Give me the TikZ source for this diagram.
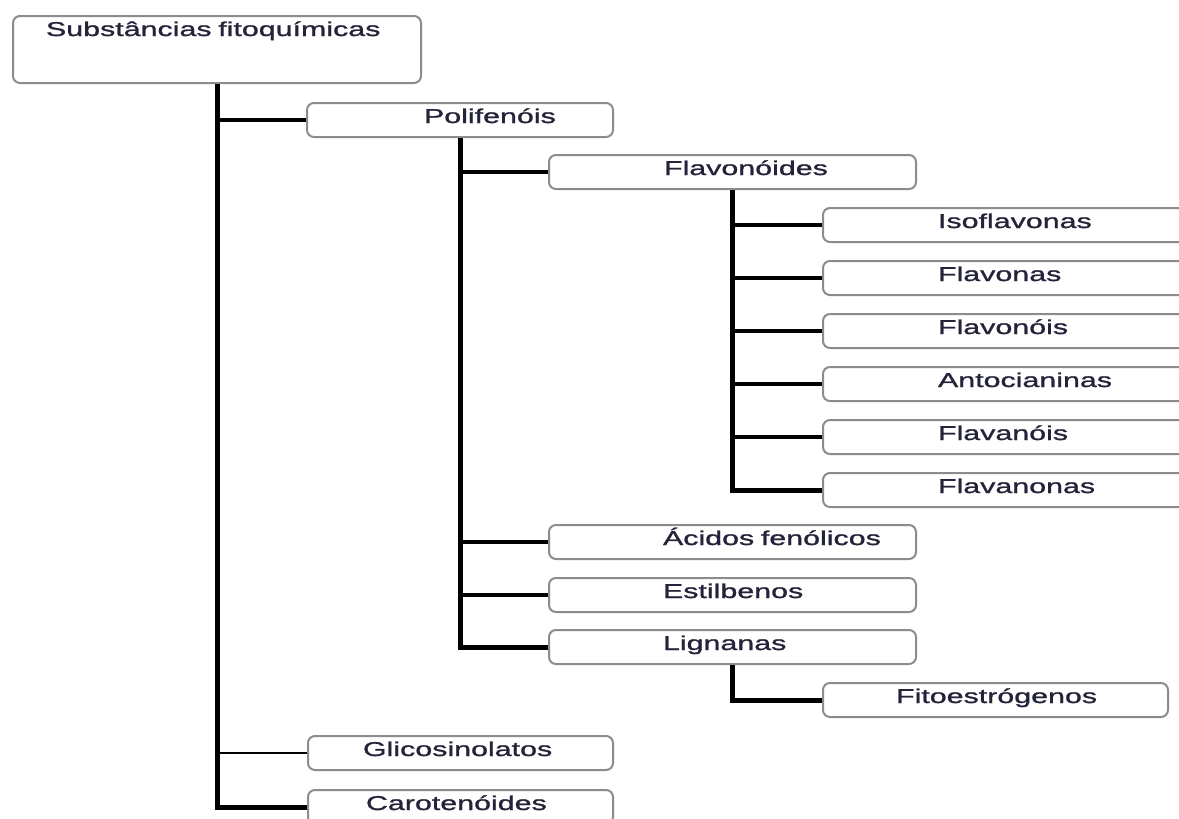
\documentclass[tikz,border=0pt]{standalone}
\usepackage{fontspec}
\newfontfamily\boxfont[FakeStretch=1.52,FakeBold=1.2]{Liberation Sans}
\definecolor{boxline}{HTML}{8C8C8C}
\definecolor{boxtext}{HTML}{23233A}
\begin{document}
\begin{tikzpicture}[x=1pt,y=-1pt,
  box/.style 2 args={draw=boxline,line width=2pt,rounded corners=7pt,fill=white,anchor=north west,
    inner xsep=0pt,inner ysep=0pt,text width=#1,align=left,text height=20pt,text depth=14pt,
    font=\boxfont\fontsize{20}{24}\selectfont,text=boxtext,execute at begin node={\hspace*{#2}}},
  trunk/.style={line width=5pt},
  branch/.style={line width=4pt}]
\clip (0,0) rectangle (1179,819);
\fill[white] (0,0) rectangle (1179,819);
\node[box={408pt}{33pt},text depth=47pt] (root) at (12,15) {Substâncias fitoquímicas};
\node[box={306pt}{117pt}] (poli) at (306,102) {Polifenóis};
\node[box={367pt}{115pt}] (flavo) at (548,154) {Flavonóides};
\foreach \n/\lbl [count=\i from 0] in {iso/Isoflavonas,flavona/Flavonas,flavonol/Flavonóis,anto/Antocianinas,flavanol/Flavanóis,flavanona/Flavanonas}
  \node[box={400pt}{115pt}] (\n) at (822,207+53*\i) {\lbl};
\node[box={367pt}{114pt}] (acidos) at (548,524) {Ácidos fenólicos};
\node[box={367pt}{114pt}] (estil) at (548,577) {Estilbenos};
\node[box={367pt}{114pt}] (lign) at (548,629) {Lignanas};
\node[box={345pt}{73pt}] (fito) at (822,682) {Fitoestrógenos};
\node[box={305pt}{55pt}] (glico) at (307,735) {Glicosinolatos};
\node[box={305pt}{58pt}] (caro) at (307,789) {Carotenóides};
\draw[trunk] (root.south) |- (caro.west);
\draw[branch] (root.south |- poli.west) -- (poli.west);
\draw[line width=1.5pt] (root.south |- glico.west) -- (glico.west);
\draw[trunk] (poli.south) |- (lign.west);
\foreach \n in {flavo,acidos,estil} \draw[branch] (poli.south |- \n.west) -- (\n.west);
\draw[trunk] (flavo.south) |- (flavanona.west);
\foreach \n in {iso,flavona,flavonol,anto,flavanol} \draw[branch] (flavo.south |- \n.west) -- (\n.west);
\draw[trunk] (lign.south) |- (fito.west);
\end{tikzpicture}
\end{document}
